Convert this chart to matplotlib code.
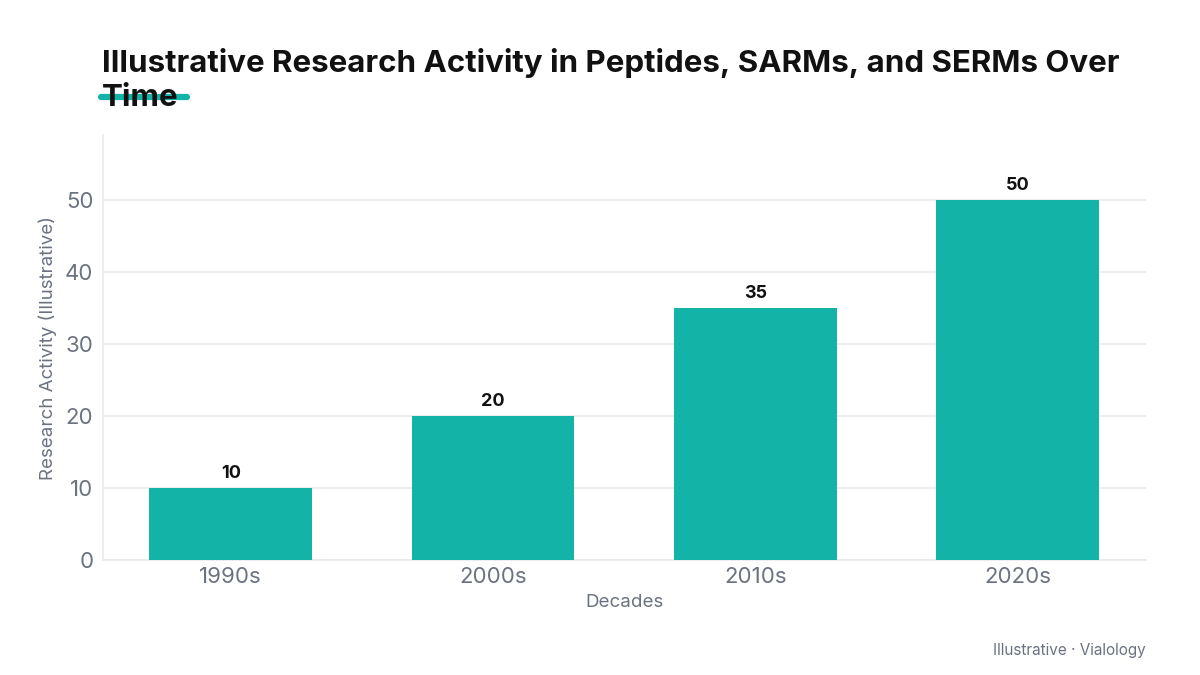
import matplotlib.pyplot as plt
from matplotlib.lines import Line2D

plt.rcParams['font.family'] = ['Inter', 'DejaVu Sans']

# data
decades = ['1990s', '2000s', '2010s', '2020s']
activity = [10, 20, 35, 50]
yticks = [0, 10, 20, 30, 40, 50]

teal = '#14b3a7'
grey_txt = '#6b7280'
grid_col = '#e8ebed'

fig = plt.figure(figsize=(12, 6.75), dpi=100)
ax = fig.add_axes([103/1200, 115/675, (1146-103)/1200, (560-135)/675])

x = range(len(decades))
bars = ax.bar(x, activity, width=0.62, color=teal, zorder=3)
for b, v in zip(bars, activity):
    ax.annotate(str(v), (b.get_x() + b.get_width()/2, v), xytext=(0, 4),
                textcoords='offset points', ha='center', va='bottom',
                fontsize=13, fontweight='bold', color='#111111')

ax.set_xlim(-0.487, 3.49)
ax.set_ylim(0, 59)
ax.set_xticks(list(x))
ax.set_xticklabels(decades)
ax.set_yticks(yticks)
ax.tick_params(axis='both', length=0, labelsize=16, labelcolor=grey_txt)
ax.tick_params(axis='y', pad=7)
ax.tick_params(axis='x', pad=5)
ax.grid(axis='y', color=grid_col, lw=1.2, zorder=0)
ax.set_axisbelow(True)
for s in ['top', 'right']:
    ax.spines[s].set_visible(False)
for s in ['left', 'bottom']:
    ax.spines[s].set_color(grid_col)
    ax.spines[s].set_linewidth(1.2)

ax.set_ylabel('Research Activity (Illustrative)', fontsize=13.5, color=grey_txt, labelpad=6)
ax.set_xlabel('Decades', fontsize=13.5, color=grey_txt, labelpad=5)

# title with accent bar
fig.add_artist(Line2D([101/1200, 187/1200], [1 - 97/675, 1 - 97/675], color=teal,
                      lw=4.5, solid_capstyle='round', zorder=1))
fig.text(102/1200, 1 - 72/675, 'Illustrative Research Activity in Peptides, SARMs, and SERMs Over',
         fontsize=22.5, fontweight='bold', color='#111111', va='baseline', zorder=2)
fig.text(102/1200, 1 - 106/675, 'Time',
         fontsize=22.5, fontweight='bold', color='#111111', va='baseline', zorder=2)

fig.text(1146/1200, 1 - 655/675, 'Illustrative · Vialology', fontsize=11,
         color=grey_txt, ha='right', va='baseline')

fig.savefig('out.png', dpi=100)
